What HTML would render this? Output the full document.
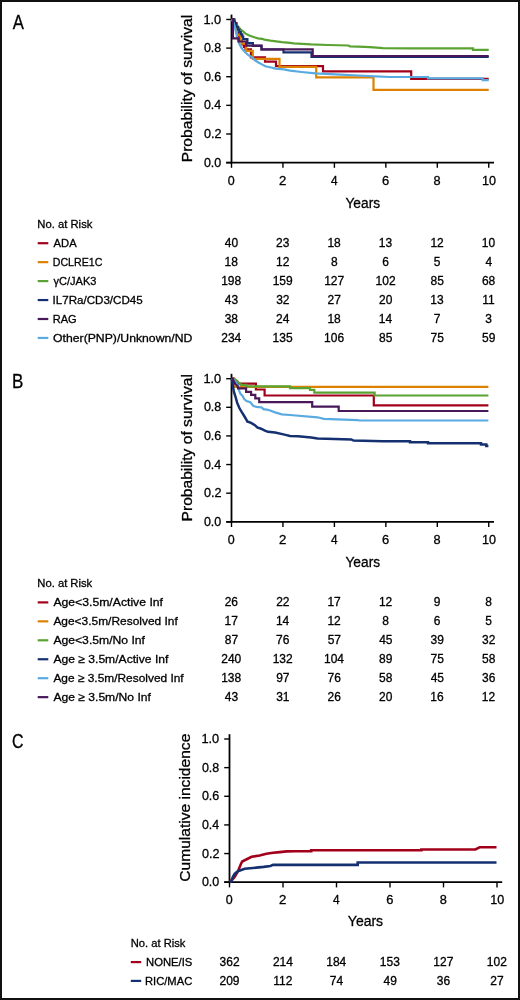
<!DOCTYPE html>
<html><head><meta charset="utf-8"><style>
html,body{margin:0;padding:0;background:#fff;}
body{width:520px;height:1000px;overflow:hidden;}
svg{display:block;will-change:transform;}
text{font-family:"Liberation Sans",sans-serif;stroke:#000;stroke-width:0.3px;}
</style></head><body>
<svg width="520" height="1000" viewBox="0 0 520 1000">
<rect x="0" y="0" width="520" height="1000" fill="#fff"/>
<line x1="231.50" y1="14.60" x2="231.50" y2="163.50" stroke="#000" stroke-width="1.8"/>
<line x1="226.20" y1="162.60" x2="494.00" y2="162.60" stroke="#000" stroke-width="1.8"/>
<line x1="226.20" y1="162.60" x2="231.50" y2="162.60" stroke="#000" stroke-width="1.4"/>
<line x1="226.20" y1="133.98" x2="231.50" y2="133.98" stroke="#000" stroke-width="1.4"/>
<line x1="226.20" y1="105.35" x2="231.50" y2="105.35" stroke="#000" stroke-width="1.4"/>
<line x1="226.20" y1="76.73" x2="231.50" y2="76.73" stroke="#000" stroke-width="1.4"/>
<line x1="226.20" y1="48.10" x2="231.50" y2="48.10" stroke="#000" stroke-width="1.4"/>
<line x1="226.20" y1="19.48" x2="231.50" y2="19.48" stroke="#000" stroke-width="1.4"/>
<line x1="231.50" y1="162.60" x2="231.50" y2="167.80" stroke="#000" stroke-width="1.4"/>
<line x1="282.95" y1="162.60" x2="282.95" y2="167.80" stroke="#000" stroke-width="1.4"/>
<line x1="334.40" y1="162.60" x2="334.40" y2="167.80" stroke="#000" stroke-width="1.4"/>
<line x1="385.85" y1="162.60" x2="385.85" y2="167.80" stroke="#000" stroke-width="1.4"/>
<line x1="437.30" y1="162.60" x2="437.30" y2="167.80" stroke="#000" stroke-width="1.4"/>
<line x1="488.75" y1="162.60" x2="488.75" y2="167.80" stroke="#000" stroke-width="1.4"/>
<text x="12.80" y="28.60" font-size="19.8" textLength="11.13" lengthAdjust="spacingAndGlyphs" fill="#000">A</text>
<text x="203.90" y="166.70" font-size="12.7" textLength="17.34" lengthAdjust="spacingAndGlyphs" fill="#000">0.0</text>
<text x="203.90" y="138.08" font-size="12.7" textLength="17.54" lengthAdjust="spacingAndGlyphs" fill="#000">0.2</text>
<text x="203.90" y="109.45" font-size="12.7" textLength="17.27" lengthAdjust="spacingAndGlyphs" fill="#000">0.4</text>
<text x="203.90" y="80.83" font-size="12.7" textLength="17.40" lengthAdjust="spacingAndGlyphs" fill="#000">0.6</text>
<text x="203.90" y="52.20" font-size="12.7" textLength="17.40" lengthAdjust="spacingAndGlyphs" fill="#000">0.8</text>
<text x="203.44" y="23.58" font-size="12.7" textLength="17.81" lengthAdjust="spacingAndGlyphs" fill="#000">1.0</text>
<text x="227.80" y="184.90" font-size="12.7" textLength="6.95" lengthAdjust="spacingAndGlyphs" fill="#000">0</text>
<text x="279.09" y="184.90" font-size="12.7" textLength="7.33" lengthAdjust="spacingAndGlyphs" fill="#000">2</text>
<text x="330.96" y="184.90" font-size="12.7" textLength="6.61" lengthAdjust="spacingAndGlyphs" fill="#000">4</text>
<text x="382.00" y="184.90" font-size="12.7" textLength="7.18" lengthAdjust="spacingAndGlyphs" fill="#000">6</text>
<text x="433.53" y="184.90" font-size="12.7" textLength="7.10" lengthAdjust="spacingAndGlyphs" fill="#000">8</text>
<text x="482.00" y="184.90" font-size="12.7" textLength="14.02" lengthAdjust="spacingAndGlyphs" fill="#000">10</text>
<text x="345.46" y="208.10" font-size="15.1" textLength="34.63" lengthAdjust="spacingAndGlyphs" fill="#000">Years</text>
<text transform="translate(192.30,161.00) rotate(-90)" x="-1.25" y="0" font-size="15.3" textLength="147.42" lengthAdjust="spacingAndGlyphs">Probability of survival</text>
<line x1="231.50" y1="373.80" x2="231.50" y2="522.70" stroke="#000" stroke-width="1.8"/>
<line x1="226.20" y1="521.80" x2="494.00" y2="521.80" stroke="#000" stroke-width="1.8"/>
<line x1="226.20" y1="521.80" x2="231.50" y2="521.80" stroke="#000" stroke-width="1.4"/>
<line x1="226.20" y1="493.18" x2="231.50" y2="493.18" stroke="#000" stroke-width="1.4"/>
<line x1="226.20" y1="464.55" x2="231.50" y2="464.55" stroke="#000" stroke-width="1.4"/>
<line x1="226.20" y1="435.93" x2="231.50" y2="435.93" stroke="#000" stroke-width="1.4"/>
<line x1="226.20" y1="407.30" x2="231.50" y2="407.30" stroke="#000" stroke-width="1.4"/>
<line x1="226.20" y1="378.68" x2="231.50" y2="378.68" stroke="#000" stroke-width="1.4"/>
<line x1="231.50" y1="521.80" x2="231.50" y2="527.00" stroke="#000" stroke-width="1.4"/>
<line x1="282.95" y1="521.80" x2="282.95" y2="527.00" stroke="#000" stroke-width="1.4"/>
<line x1="334.40" y1="521.80" x2="334.40" y2="527.00" stroke="#000" stroke-width="1.4"/>
<line x1="385.85" y1="521.80" x2="385.85" y2="527.00" stroke="#000" stroke-width="1.4"/>
<line x1="437.30" y1="521.80" x2="437.30" y2="527.00" stroke="#000" stroke-width="1.4"/>
<line x1="488.75" y1="521.80" x2="488.75" y2="527.00" stroke="#000" stroke-width="1.4"/>
<text x="11.94" y="387.80" font-size="19.8" textLength="11.35" lengthAdjust="spacingAndGlyphs" fill="#000">B</text>
<text x="203.90" y="525.90" font-size="12.7" textLength="17.34" lengthAdjust="spacingAndGlyphs" fill="#000">0.0</text>
<text x="203.90" y="497.28" font-size="12.7" textLength="17.54" lengthAdjust="spacingAndGlyphs" fill="#000">0.2</text>
<text x="203.90" y="468.65" font-size="12.7" textLength="17.27" lengthAdjust="spacingAndGlyphs" fill="#000">0.4</text>
<text x="203.90" y="440.03" font-size="12.7" textLength="17.40" lengthAdjust="spacingAndGlyphs" fill="#000">0.6</text>
<text x="203.90" y="411.40" font-size="12.7" textLength="17.40" lengthAdjust="spacingAndGlyphs" fill="#000">0.8</text>
<text x="203.44" y="382.78" font-size="12.7" textLength="17.81" lengthAdjust="spacingAndGlyphs" fill="#000">1.0</text>
<text x="227.80" y="544.10" font-size="12.7" textLength="6.95" lengthAdjust="spacingAndGlyphs" fill="#000">0</text>
<text x="279.09" y="544.10" font-size="12.7" textLength="7.33" lengthAdjust="spacingAndGlyphs" fill="#000">2</text>
<text x="330.96" y="544.10" font-size="12.7" textLength="6.61" lengthAdjust="spacingAndGlyphs" fill="#000">4</text>
<text x="382.00" y="544.10" font-size="12.7" textLength="7.18" lengthAdjust="spacingAndGlyphs" fill="#000">6</text>
<text x="433.53" y="544.10" font-size="12.7" textLength="7.10" lengthAdjust="spacingAndGlyphs" fill="#000">8</text>
<text x="482.00" y="544.10" font-size="12.7" textLength="14.02" lengthAdjust="spacingAndGlyphs" fill="#000">10</text>
<text x="345.46" y="567.30" font-size="15.1" textLength="34.63" lengthAdjust="spacingAndGlyphs" fill="#000">Years</text>
<text transform="translate(192.30,520.20) rotate(-90)" x="-1.25" y="0" font-size="15.3" textLength="147.42" lengthAdjust="spacingAndGlyphs">Probability of survival</text>
<text x="37.30" y="227.90" font-size="11.7" textLength="55.10" lengthAdjust="spacingAndGlyphs" fill="#000">No. at Risk</text>
<line x1="37.70" y1="243.20" x2="48.30" y2="243.20" stroke="#a2001a" stroke-width="2.2"/>
<text x="53.60" y="246.90" font-size="11.7" textLength="23.01" lengthAdjust="spacingAndGlyphs" fill="#000">ADA</text>
<text x="224.78" y="246.90" font-size="12.0" textLength="13.35" lengthAdjust="spacingAndGlyphs" fill="#000">40</text>
<text x="276.09" y="246.90" font-size="12.0" textLength="13.35" lengthAdjust="spacingAndGlyphs" fill="#000">23</text>
<text x="327.40" y="246.90" font-size="12.0" textLength="13.35" lengthAdjust="spacingAndGlyphs" fill="#000">18</text>
<text x="378.86" y="246.90" font-size="12.0" textLength="13.35" lengthAdjust="spacingAndGlyphs" fill="#000">13</text>
<text x="430.38" y="246.90" font-size="12.0" textLength="13.35" lengthAdjust="spacingAndGlyphs" fill="#000">12</text>
<text x="481.75" y="246.90" font-size="12.0" textLength="13.35" lengthAdjust="spacingAndGlyphs" fill="#000">10</text>
<line x1="37.70" y1="262.15" x2="48.30" y2="262.15" stroke="#dc8200" stroke-width="2.2"/>
<text x="52.75" y="265.85" font-size="11.7" textLength="49.66" lengthAdjust="spacingAndGlyphs" fill="#000">DCLRE1C</text>
<text x="224.48" y="265.85" font-size="12.0" textLength="13.35" lengthAdjust="spacingAndGlyphs" fill="#000">18</text>
<text x="276.00" y="265.85" font-size="12.0" textLength="13.35" lengthAdjust="spacingAndGlyphs" fill="#000">12</text>
<text x="330.91" y="265.85" font-size="12.0" textLength="6.67" lengthAdjust="spacingAndGlyphs" fill="#000">8</text>
<text x="382.34" y="265.85" font-size="12.0" textLength="6.67" lengthAdjust="spacingAndGlyphs" fill="#000">6</text>
<text x="433.86" y="265.85" font-size="12.0" textLength="6.67" lengthAdjust="spacingAndGlyphs" fill="#000">5</text>
<text x="485.38" y="265.85" font-size="12.0" textLength="6.67" lengthAdjust="spacingAndGlyphs" fill="#000">4</text>
<line x1="37.70" y1="281.10" x2="48.30" y2="281.10" stroke="#5aa232" stroke-width="2.2"/>
<text x="53.54" y="284.80" font-size="11.7" textLength="42.90" lengthAdjust="spacingAndGlyphs" fill="#000">γC/JAK3</text>
<text x="221.15" y="284.80" font-size="12.0" textLength="20.02" lengthAdjust="spacingAndGlyphs" fill="#000">198</text>
<text x="272.64" y="284.80" font-size="12.0" textLength="20.02" lengthAdjust="spacingAndGlyphs" fill="#000">159</text>
<text x="324.13" y="284.80" font-size="12.0" textLength="20.02" lengthAdjust="spacingAndGlyphs" fill="#000">127</text>
<text x="375.59" y="284.80" font-size="12.0" textLength="20.02" lengthAdjust="spacingAndGlyphs" fill="#000">102</text>
<text x="430.50" y="284.80" font-size="12.0" textLength="13.35" lengthAdjust="spacingAndGlyphs" fill="#000">85</text>
<text x="481.93" y="284.80" font-size="12.0" textLength="13.35" lengthAdjust="spacingAndGlyphs" fill="#000">68</text>
<line x1="37.70" y1="300.05" x2="48.30" y2="300.05" stroke="#143070" stroke-width="2.2"/>
<text x="52.56" y="303.75" font-size="11.7" textLength="90.12" lengthAdjust="spacingAndGlyphs" fill="#000">IL7Ra/CD3/CD45</text>
<text x="224.81" y="303.75" font-size="12.0" textLength="13.35" lengthAdjust="spacingAndGlyphs" fill="#000">43</text>
<text x="276.21" y="303.75" font-size="12.0" textLength="13.35" lengthAdjust="spacingAndGlyphs" fill="#000">32</text>
<text x="327.61" y="303.75" font-size="12.0" textLength="13.35" lengthAdjust="spacingAndGlyphs" fill="#000">27</text>
<text x="378.98" y="303.75" font-size="12.0" textLength="13.35" lengthAdjust="spacingAndGlyphs" fill="#000">20</text>
<text x="430.32" y="303.75" font-size="12.0" textLength="13.35" lengthAdjust="spacingAndGlyphs" fill="#000">13</text>
<text x="482.26" y="303.75" font-size="12.0" textLength="12.46" lengthAdjust="spacingAndGlyphs" fill="#000">11</text>
<line x1="37.70" y1="319.00" x2="48.30" y2="319.00" stroke="#48185a" stroke-width="2.2"/>
<text x="52.71" y="322.70" font-size="11.7" textLength="23.98" lengthAdjust="spacingAndGlyphs" fill="#000">RAG</text>
<text x="224.69" y="322.70" font-size="12.0" textLength="13.35" lengthAdjust="spacingAndGlyphs" fill="#000">38</text>
<text x="276.03" y="322.70" font-size="12.0" textLength="13.35" lengthAdjust="spacingAndGlyphs" fill="#000">24</text>
<text x="327.40" y="322.70" font-size="12.0" textLength="13.35" lengthAdjust="spacingAndGlyphs" fill="#000">18</text>
<text x="378.80" y="322.70" font-size="12.0" textLength="13.35" lengthAdjust="spacingAndGlyphs" fill="#000">14</text>
<text x="433.86" y="322.70" font-size="12.0" textLength="6.67" lengthAdjust="spacingAndGlyphs" fill="#000">7</text>
<text x="485.32" y="322.70" font-size="12.0" textLength="6.67" lengthAdjust="spacingAndGlyphs" fill="#000">3</text>
<line x1="37.70" y1="337.95" x2="48.30" y2="337.95" stroke="#5aaae2" stroke-width="2.2"/>
<text x="53.05" y="341.65" font-size="11.7" textLength="139.33" lengthAdjust="spacingAndGlyphs" fill="#000">Other(PNP)/Unknown/ND</text>
<text x="221.24" y="341.65" font-size="12.0" textLength="20.02" lengthAdjust="spacingAndGlyphs" fill="#000">234</text>
<text x="272.61" y="341.65" font-size="12.0" textLength="20.02" lengthAdjust="spacingAndGlyphs" fill="#000">135</text>
<text x="324.07" y="341.65" font-size="12.0" textLength="20.02" lengthAdjust="spacingAndGlyphs" fill="#000">106</text>
<text x="379.04" y="341.65" font-size="12.0" textLength="13.35" lengthAdjust="spacingAndGlyphs" fill="#000">85</text>
<text x="430.47" y="341.65" font-size="12.0" textLength="13.35" lengthAdjust="spacingAndGlyphs" fill="#000">75</text>
<text x="482.02" y="341.65" font-size="12.0" textLength="13.35" lengthAdjust="spacingAndGlyphs" fill="#000">59</text>
<text x="37.30" y="587.10" font-size="11.7" textLength="54.90" lengthAdjust="spacingAndGlyphs" fill="#000">No. at Risk</text>
<line x1="37.70" y1="602.40" x2="48.30" y2="602.40" stroke="#a2001a" stroke-width="2.2"/>
<text x="53.40" y="606.10" font-size="11.7" textLength="109.57" lengthAdjust="spacingAndGlyphs" fill="#000">Age&lt;3.5m/Active Inf</text>
<text x="224.63" y="606.10" font-size="12.0" textLength="13.35" lengthAdjust="spacingAndGlyphs" fill="#000">26</text>
<text x="276.15" y="606.10" font-size="12.0" textLength="13.35" lengthAdjust="spacingAndGlyphs" fill="#000">22</text>
<text x="327.46" y="606.10" font-size="12.0" textLength="13.35" lengthAdjust="spacingAndGlyphs" fill="#000">17</text>
<text x="378.92" y="606.10" font-size="12.0" textLength="13.35" lengthAdjust="spacingAndGlyphs" fill="#000">12</text>
<text x="433.86" y="606.10" font-size="12.0" textLength="6.67" lengthAdjust="spacingAndGlyphs" fill="#000">9</text>
<text x="485.29" y="606.10" font-size="12.0" textLength="6.67" lengthAdjust="spacingAndGlyphs" fill="#000">8</text>
<line x1="37.70" y1="621.35" x2="48.30" y2="621.35" stroke="#dc8200" stroke-width="2.2"/>
<text x="53.40" y="625.05" font-size="11.7" textLength="124.38" lengthAdjust="spacingAndGlyphs" fill="#000">Age&lt;3.5m/Resolved Inf</text>
<text x="224.54" y="625.05" font-size="12.0" textLength="13.35" lengthAdjust="spacingAndGlyphs" fill="#000">17</text>
<text x="275.88" y="625.05" font-size="12.0" textLength="13.35" lengthAdjust="spacingAndGlyphs" fill="#000">14</text>
<text x="327.46" y="625.05" font-size="12.0" textLength="13.35" lengthAdjust="spacingAndGlyphs" fill="#000">12</text>
<text x="382.37" y="625.05" font-size="12.0" textLength="6.67" lengthAdjust="spacingAndGlyphs" fill="#000">8</text>
<text x="433.80" y="625.05" font-size="12.0" textLength="6.67" lengthAdjust="spacingAndGlyphs" fill="#000">6</text>
<text x="485.32" y="625.05" font-size="12.0" textLength="6.67" lengthAdjust="spacingAndGlyphs" fill="#000">5</text>
<line x1="37.70" y1="640.30" x2="48.30" y2="640.30" stroke="#5aa232" stroke-width="2.2"/>
<text x="53.40" y="644.00" font-size="11.7" textLength="91.57" lengthAdjust="spacingAndGlyphs" fill="#000">Age&lt;3.5m/No Inf</text>
<text x="224.72" y="644.00" font-size="12.0" textLength="13.35" lengthAdjust="spacingAndGlyphs" fill="#000">87</text>
<text x="276.09" y="644.00" font-size="12.0" textLength="13.35" lengthAdjust="spacingAndGlyphs" fill="#000">76</text>
<text x="327.67" y="644.00" font-size="12.0" textLength="13.35" lengthAdjust="spacingAndGlyphs" fill="#000">57</text>
<text x="379.19" y="644.00" font-size="12.0" textLength="13.35" lengthAdjust="spacingAndGlyphs" fill="#000">45</text>
<text x="430.56" y="644.00" font-size="12.0" textLength="13.35" lengthAdjust="spacingAndGlyphs" fill="#000">39</text>
<text x="482.05" y="644.00" font-size="12.0" textLength="13.35" lengthAdjust="spacingAndGlyphs" fill="#000">32</text>
<line x1="37.70" y1="659.25" x2="48.30" y2="659.25" stroke="#143070" stroke-width="2.2"/>
<text x="53.40" y="662.95" font-size="11.7" textLength="114.97" lengthAdjust="spacingAndGlyphs" fill="#000">Age ≥ 3.5m/Active Inf</text>
<text x="221.27" y="662.95" font-size="12.0" textLength="20.02" lengthAdjust="spacingAndGlyphs" fill="#000">240</text>
<text x="272.67" y="662.95" font-size="12.0" textLength="20.02" lengthAdjust="spacingAndGlyphs" fill="#000">132</text>
<text x="324.01" y="662.95" font-size="12.0" textLength="20.02" lengthAdjust="spacingAndGlyphs" fill="#000">104</text>
<text x="379.07" y="662.95" font-size="12.0" textLength="13.35" lengthAdjust="spacingAndGlyphs" fill="#000">89</text>
<text x="430.47" y="662.95" font-size="12.0" textLength="13.35" lengthAdjust="spacingAndGlyphs" fill="#000">75</text>
<text x="481.99" y="662.95" font-size="12.0" textLength="13.35" lengthAdjust="spacingAndGlyphs" fill="#000">58</text>
<line x1="37.70" y1="678.20" x2="48.30" y2="678.20" stroke="#5aaae2" stroke-width="2.2"/>
<text x="53.40" y="681.90" font-size="11.7" textLength="130.28" lengthAdjust="spacingAndGlyphs" fill="#000">Age ≥ 3.5m/Resolved Inf</text>
<text x="221.15" y="681.90" font-size="12.0" textLength="20.02" lengthAdjust="spacingAndGlyphs" fill="#000">138</text>
<text x="276.18" y="681.90" font-size="12.0" textLength="13.35" lengthAdjust="spacingAndGlyphs" fill="#000">97</text>
<text x="327.55" y="681.90" font-size="12.0" textLength="13.35" lengthAdjust="spacingAndGlyphs" fill="#000">76</text>
<text x="379.07" y="681.90" font-size="12.0" textLength="13.35" lengthAdjust="spacingAndGlyphs" fill="#000">58</text>
<text x="430.65" y="681.90" font-size="12.0" textLength="13.35" lengthAdjust="spacingAndGlyphs" fill="#000">45</text>
<text x="481.99" y="681.90" font-size="12.0" textLength="13.35" lengthAdjust="spacingAndGlyphs" fill="#000">36</text>
<line x1="37.70" y1="697.15" x2="48.30" y2="697.15" stroke="#48185a" stroke-width="2.2"/>
<text x="53.40" y="700.85" font-size="11.7" textLength="97.47" lengthAdjust="spacingAndGlyphs" fill="#000">Age ≥ 3.5m/No Inf</text>
<text x="224.81" y="700.85" font-size="12.0" textLength="13.35" lengthAdjust="spacingAndGlyphs" fill="#000">43</text>
<text x="276.18" y="700.85" font-size="12.0" textLength="13.35" lengthAdjust="spacingAndGlyphs" fill="#000">31</text>
<text x="327.55" y="700.85" font-size="12.0" textLength="13.35" lengthAdjust="spacingAndGlyphs" fill="#000">26</text>
<text x="378.98" y="700.85" font-size="12.0" textLength="13.35" lengthAdjust="spacingAndGlyphs" fill="#000">20</text>
<text x="430.32" y="700.85" font-size="12.0" textLength="13.35" lengthAdjust="spacingAndGlyphs" fill="#000">16</text>
<text x="481.84" y="700.85" font-size="12.0" textLength="13.35" lengthAdjust="spacingAndGlyphs" fill="#000">12</text>
<line x1="229.50" y1="734.20" x2="229.50" y2="883.10" stroke="#000" stroke-width="1.8"/>
<line x1="224.20" y1="882.20" x2="502.20" y2="882.20" stroke="#000" stroke-width="1.8"/>
<line x1="224.20" y1="882.20" x2="229.50" y2="882.20" stroke="#000" stroke-width="1.4"/>
<line x1="224.20" y1="853.56" x2="229.50" y2="853.56" stroke="#000" stroke-width="1.4"/>
<line x1="224.20" y1="824.92" x2="229.50" y2="824.92" stroke="#000" stroke-width="1.4"/>
<line x1="224.20" y1="796.28" x2="229.50" y2="796.28" stroke="#000" stroke-width="1.4"/>
<line x1="224.20" y1="767.64" x2="229.50" y2="767.64" stroke="#000" stroke-width="1.4"/>
<line x1="224.20" y1="739.00" x2="229.50" y2="739.00" stroke="#000" stroke-width="1.4"/>
<line x1="229.50" y1="882.20" x2="229.50" y2="887.40" stroke="#000" stroke-width="1.4"/>
<line x1="283.00" y1="882.20" x2="283.00" y2="887.40" stroke="#000" stroke-width="1.4"/>
<line x1="336.50" y1="882.20" x2="336.50" y2="887.40" stroke="#000" stroke-width="1.4"/>
<line x1="390.00" y1="882.20" x2="390.00" y2="887.40" stroke="#000" stroke-width="1.4"/>
<line x1="443.50" y1="882.20" x2="443.50" y2="887.40" stroke="#000" stroke-width="1.4"/>
<line x1="497.00" y1="882.20" x2="497.00" y2="887.40" stroke="#000" stroke-width="1.4"/>
<text x="12.10" y="748.30" font-size="19.8" textLength="11.49" lengthAdjust="spacingAndGlyphs" fill="#000">C</text>
<text x="201.90" y="886.30" font-size="12.7" textLength="17.34" lengthAdjust="spacingAndGlyphs" fill="#000">0.0</text>
<text x="201.90" y="857.66" font-size="12.7" textLength="17.54" lengthAdjust="spacingAndGlyphs" fill="#000">0.2</text>
<text x="201.90" y="829.02" font-size="12.7" textLength="17.27" lengthAdjust="spacingAndGlyphs" fill="#000">0.4</text>
<text x="201.90" y="800.38" font-size="12.7" textLength="17.40" lengthAdjust="spacingAndGlyphs" fill="#000">0.6</text>
<text x="201.90" y="771.74" font-size="12.7" textLength="17.40" lengthAdjust="spacingAndGlyphs" fill="#000">0.8</text>
<text x="201.44" y="743.10" font-size="12.7" textLength="17.81" lengthAdjust="spacingAndGlyphs" fill="#000">1.0</text>
<text x="225.80" y="904.30" font-size="12.7" textLength="6.95" lengthAdjust="spacingAndGlyphs" fill="#000">0</text>
<text x="279.14" y="904.30" font-size="12.7" textLength="7.33" lengthAdjust="spacingAndGlyphs" fill="#000">2</text>
<text x="333.06" y="904.30" font-size="12.7" textLength="6.61" lengthAdjust="spacingAndGlyphs" fill="#000">4</text>
<text x="386.15" y="904.30" font-size="12.7" textLength="7.18" lengthAdjust="spacingAndGlyphs" fill="#000">6</text>
<text x="439.73" y="904.30" font-size="12.7" textLength="7.10" lengthAdjust="spacingAndGlyphs" fill="#000">8</text>
<text x="490.25" y="904.30" font-size="12.7" textLength="14.02" lengthAdjust="spacingAndGlyphs" fill="#000">10</text>
<text x="347.85" y="926.20" font-size="15.1" textLength="35.25" lengthAdjust="spacingAndGlyphs" fill="#000">Years</text>
<text transform="translate(190.30,881.00) rotate(-90)" x="-0.78" y="0" font-size="15.3" textLength="148.08" lengthAdjust="spacingAndGlyphs">Cumulative incidence</text>
<text x="130.71" y="946.60" font-size="11.7" textLength="54.70" lengthAdjust="spacingAndGlyphs" fill="#000">No. at Risk</text>
<line x1="130.80" y1="962.10" x2="141.20" y2="962.10" stroke="#a2001a" stroke-width="2.2"/>
<text x="146.00" y="965.80" font-size="11.7" textLength="46.33" lengthAdjust="spacingAndGlyphs" fill="#000">NONE/IS</text>
<text x="219.57" y="965.80" font-size="12.0" textLength="20.02" lengthAdjust="spacingAndGlyphs" fill="#000">362</text>
<text x="272.89" y="965.80" font-size="12.0" textLength="20.02" lengthAdjust="spacingAndGlyphs" fill="#000">214</text>
<text x="326.24" y="965.80" font-size="12.0" textLength="20.02" lengthAdjust="spacingAndGlyphs" fill="#000">184</text>
<text x="379.80" y="965.80" font-size="12.0" textLength="20.02" lengthAdjust="spacingAndGlyphs" fill="#000">153</text>
<text x="433.36" y="965.80" font-size="12.0" textLength="20.02" lengthAdjust="spacingAndGlyphs" fill="#000">127</text>
<text x="486.86" y="965.80" font-size="12.0" textLength="20.02" lengthAdjust="spacingAndGlyphs" fill="#000">102</text>
<line x1="130.80" y1="980.90" x2="141.20" y2="980.90" stroke="#143070" stroke-width="2.2"/>
<text x="145.01" y="984.60" font-size="11.7" textLength="47.21" lengthAdjust="spacingAndGlyphs" fill="#000">RIC/MAC</text>
<text x="219.48" y="984.60" font-size="12.0" textLength="20.02" lengthAdjust="spacingAndGlyphs" fill="#000">209</text>
<text x="273.28" y="984.60" font-size="12.0" textLength="19.13" lengthAdjust="spacingAndGlyphs" fill="#000">112</text>
<text x="329.72" y="984.60" font-size="12.0" textLength="13.35" lengthAdjust="spacingAndGlyphs" fill="#000">74</text>
<text x="383.49" y="984.60" font-size="12.0" textLength="13.35" lengthAdjust="spacingAndGlyphs" fill="#000">49</text>
<text x="436.84" y="984.60" font-size="12.0" textLength="13.35" lengthAdjust="spacingAndGlyphs" fill="#000">36</text>
<text x="490.34" y="984.60" font-size="12.0" textLength="13.35" lengthAdjust="spacingAndGlyphs" fill="#000">27</text>
<path d="M231.80,19.30 L234.50,19.30 L234.50,23.20 L236.50,23.20 L236.50,32.50 L238.50,32.50 L238.50,36.50 L240.20,36.50 L240.20,40.50 L242.00,40.50 L242.00,44.30 L243.90,44.30 L243.90,47.00 L245.50,47.00 L245.50,49.40 L250.90,49.40 L250.90,57.30 L265.00,57.30 L265.00,61.70 L276.00,61.70 L276.00,66.20 L323.00,66.20 L323.00,71.30 L411.20,71.30 L411.20,78.90 L488.70,78.90" fill="none" stroke="#a2001a" stroke-width="2.2" stroke-linejoin="miter" stroke-linecap="butt"/>
<path d="M231.80,19.30 L233.80,19.30 L233.80,21.50 L235.00,21.50 L235.00,24.00 L236.30,24.00 L236.30,27.00 L237.20,27.00 L237.20,35.00 L240.50,35.00 L240.50,40.60 L241.50,40.60 L241.50,43.60 L246.20,43.60 L246.20,50.90 L252.80,50.90 L252.80,58.80 L279.50,58.80 L279.50,66.90 L316.20,66.90 L316.20,77.30 L373.50,77.30 L373.50,89.90 L488.70,89.90" fill="none" stroke="#dc8200" stroke-width="2.2" stroke-linejoin="miter" stroke-linecap="butt"/>
<path d="M231.80,19.30 L234.20,22.50 L236.50,24.80 L237.80,26.10 L240.10,29.00 L243.00,31.30 L245.30,33.40 L248.70,35.20 L252.20,36.50 L255.10,37.50 L258.00,38.40 L262.00,38.90 L264.60,39.60 L270.40,40.70 L276.10,41.30 L281.90,42.10 L290.00,42.80 L293.60,43.40 L311.00,44.40 L328.00,45.00 L348.50,45.50 L350.00,46.30 L358.00,46.60 L370.00,47.20 L383.00,48.20 L410.00,48.40 L473.00,48.40 L473.00,49.80 L488.70,49.80" fill="none" stroke="#5aa232" stroke-width="2.2" stroke-linejoin="miter" stroke-linecap="butt"/>
<path d="M231.80,19.30 L233.80,19.30 L233.80,21.50 L235.00,21.50 L235.00,24.00 L236.30,24.00 L236.30,27.00 L237.80,27.00 L237.80,29.50 L239.30,29.50 L239.30,32.00 L240.80,32.00 L240.80,34.30 L242.30,34.30 L242.30,36.50 L243.20,36.50 L243.20,39.20 L247.40,39.20 L247.40,43.10 L252.90,43.10 L252.90,45.80 L261.50,45.80 L261.50,49.50 L283.50,49.50 L283.50,52.30 L311.50,52.30 L311.50,57.00 L488.70,57.00" fill="none" stroke="#143070" stroke-width="2.2" stroke-linejoin="miter" stroke-linecap="butt"/>
<path d="M231.80,19.30 L233.60,23.00 L235.10,28.00 L236.10,33.00 L237.10,37.00 L238.20,41.00 L239.40,44.00 L241.30,47.60 L243.60,50.60 L245.70,52.80 L248.00,54.90 L251.50,57.00 L254.90,60.30 L258.40,62.50 L261.90,64.40 L265.30,66.20 L268.80,67.00 L272.20,67.70 L275.70,68.60 L284.00,69.30 L290.00,70.60 L301.50,72.00 L315.50,73.40 L340.50,74.70 L358.00,75.50 L375.40,76.30 L390.00,77.00 L428.00,77.00 L428.00,78.30 L482.70,78.30 L482.70,80.20 L488.70,80.20" fill="none" stroke="#5aaae2" stroke-width="2.2" stroke-linejoin="miter" stroke-linecap="butt"/>
<path d="M231.80,19.20 L232.90,19.20 L232.90,38.30 L238.60,38.30 L238.60,41.50 L246.20,41.50 L246.20,45.70 L261.50,45.70 L261.50,49.40 L312.70,49.40 L312.70,56.00 L488.70,56.00" fill="none" stroke="#48185a" stroke-width="2.2" stroke-linejoin="miter" stroke-linecap="butt"/>
<path d="M231.80,378.70 L234.00,378.70 L234.00,381.00 L237.00,381.00 L237.00,383.70 L255.90,383.70 L255.90,389.50 L264.60,389.50 L264.60,395.50 L373.80,395.50 L373.80,405.30 L488.40,405.30" fill="none" stroke="#a2001a" stroke-width="2.2" stroke-linejoin="miter" stroke-linecap="butt"/>
<path d="M231.80,378.70 L233.80,378.70 L233.80,386.90 L488.40,386.90" fill="none" stroke="#dc8200" stroke-width="2.2" stroke-linejoin="miter" stroke-linecap="butt"/>
<path d="M231.80,378.70 L234.90,379.10 L238.80,382.50 L240.30,383.70 L241.00,384.80 L246.50,384.80 L246.50,386.30 L290.00,386.30 L290.00,388.10 L310.00,388.10 L310.00,389.80 L314.30,389.80 L314.30,392.60 L374.60,392.60 L374.60,395.50 L488.40,395.50" fill="none" stroke="#5aa232" stroke-width="2.2" stroke-linejoin="miter" stroke-linecap="butt"/>
<path d="M231.80,378.70 L232.60,383.70 L233.80,391.40 L235.70,397.50 L237.20,402.90 L239.50,408.30 L241.80,412.20 L244.20,416.00 L246.50,419.80 L247.20,421.40 L251.10,422.90 L254.90,425.20 L257.20,427.50 L261.10,428.70 L264.90,430.60 L268.00,431.80 L275.10,432.60 L284.50,434.60 L290.00,435.90 L298.00,436.30 L311.20,437.40 L317.50,438.50 L351.30,439.50 L353.50,440.60 L383.00,441.20 L410.00,441.20 L410.00,442.30 L428.00,442.30 L428.00,443.30 L481.00,443.30 L481.00,444.40 L486.30,444.40 L486.30,445.90 L488.40,445.90" fill="none" stroke="#143070" stroke-width="2.5" stroke-linejoin="miter" stroke-linecap="butt"/>
<path d="M231.80,378.70 L233.40,379.10 L235.70,382.20 L238.00,385.20 L239.20,390.60 L240.30,393.70 L242.60,396.00 L244.20,399.10 L246.50,401.00 L250.30,402.20 L253.40,406.00 L256.50,406.80 L261.80,407.50 L263.40,409.10 L268.00,409.80 L275.10,412.40 L281.80,414.40 L290.00,415.00 L317.50,417.30 L323.80,418.80 L357.70,420.10 L359.80,420.50 L488.40,420.50" fill="none" stroke="#5aaae2" stroke-width="2.2" stroke-linejoin="miter" stroke-linecap="butt"/>
<path d="M231.80,378.30 L232.60,378.30 L234.20,382.20 L235.70,384.50 L237.60,386.00 L238.00,388.30 L246.10,388.30 L246.10,391.80 L251.10,391.80 L251.10,394.80 L255.30,394.80 L255.30,398.30 L259.20,398.30 L259.20,402.20 L312.20,402.20 L312.20,406.70 L338.70,406.70 L338.70,411.00 L488.40,411.00" fill="none" stroke="#48185a" stroke-width="2.2" stroke-linejoin="miter" stroke-linecap="butt"/>
<path d="M229.80,881.70 L234.10,877.70 L236.00,874.50 L238.10,871.00 L240.80,864.20 L242.20,861.50 L246.20,859.50 L251.60,856.80 L259.60,855.50 L266.40,853.70 L273.10,852.80 L279.80,852.10 L286.60,851.40 L296.00,851.20 L311.20,851.20 L311.20,850.20 L421.40,850.20 L421.40,849.50 L475.40,849.50 L477.50,848.30 L479.60,847.30 L496.50,847.30" fill="none" stroke="#a2001a" stroke-width="2.6" stroke-linejoin="miter" stroke-linecap="butt"/>
<path d="M229.80,881.90 L231.50,881.30 L232.80,877.00 L234.60,873.90 L237.00,871.90 L239.30,870.70 L244.70,868.80 L252.90,868.00 L263.70,866.90 L270.40,866.00 L273.10,864.90 L357.70,864.90 L357.70,862.50 L496.50,862.50" fill="none" stroke="#143070" stroke-width="2.6" stroke-linejoin="miter" stroke-linecap="butt"/>
<rect x="1" y="1" width="518" height="998" fill="none" stroke="#111" stroke-width="2"/>
</svg>
</body></html>
